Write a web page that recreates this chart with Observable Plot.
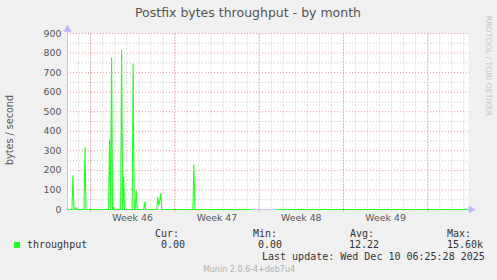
<!DOCTYPE html>
<html><head><meta charset="utf-8">
<script src="https://cdn.jsdelivr.net/npm/d3@7"></script>
<script src="https://cdn.jsdelivr.net/npm/@observablehq/plot@0.6"></script>
<style>
html,body{margin:0;padding:0;background:#f0f0f0;}
#wrap{position:relative;width:497px;height:280px;background:#f0f0f0;overflow:hidden;font-family:"DejaVu Sans",sans-serif;}
#wrap svg{position:absolute;left:0;top:0;}
.t{position:absolute;white-space:pre;line-height:1;}
.mono{font-family:"DejaVu Sans Mono",monospace;font-size:10px;color:#333;}
</style></head>
<body><div id="wrap"></div>
<script>
// ---- data ----
const times = [
  "2025-11-07T02:10Z","2025-11-07T11:00Z","2025-11-07T13:00Z","2025-11-07T15:00Z",
  "2025-11-07T17:00Z","2025-11-07T19:00Z","2025-11-07T21:00Z",
  "2025-11-08T11:00Z","2025-11-08T13:00Z","2025-11-08T15:00Z",
  "2025-11-10T12:00Z","2025-11-10T14:00Z","2025-11-10T16:00Z","2025-11-10T18:00Z","2025-11-10T20:00Z","2025-11-10T22:00Z","2025-11-11T00:00Z",
  "2025-11-11T12:00Z","2025-11-11T14:00Z","2025-11-11T16:00Z","2025-11-11T18:00Z","2025-11-11T20:00Z",
  "2025-11-12T11:00Z","2025-11-12T13:00Z","2025-11-12T15:00Z","2025-11-12T17:00Z","2025-11-12T19:00Z","2025-11-12T21:00Z",
  "2025-11-13T10:00Z","2025-11-13T12:00Z","2025-11-13T14:00Z",
  "2025-11-14T12:00Z","2025-11-14T14:00Z","2025-11-14T16:00Z","2025-11-14T18:00Z","2025-11-14T20:00Z","2025-11-14T22:00Z",
  "2025-11-17T12:00Z","2025-11-17T14:00Z","2025-11-17T16:00Z",
  "2025-11-22T08:00Z","2025-11-22T10:00Z","2025-11-24T12:00Z","2025-12-10T06:00Z"
];
const values = [
  0,0,172,0,
  0,10,0,
  0,315,0,
  0,356,0,776,0,12,0,
  0,816,0,165,0,
  0,745,0,0,97,0,
  0,38,0,
  0,63,22,45,83,0,
  0,230,0,
  0,null,0,0
];
const yTicks = [0,100,200,300,400,500,600,700,800,900];
const yMinor = [50,150,250,350,450,550,650,750,850];
const weekStarts = ["2025-11-09","2025-11-16","2025-11-23","2025-11-30","2025-12-07"];
const weekMids = ["2025-11-12T12:00Z","2025-11-19T12:00Z","2025-11-26T12:00Z","2025-12-03T12:00Z"];
const weekLabels = ["Week 46","Week 47","Week 48","Week 49"];
const xDomain = ["2025-11-07T02:10Z","2025-12-10T09:10Z"];

const points = times.map((t,i)=>({t:new Date(t), v:values[i]}));
const x0 = new Date(xDomain[0]), x1 = new Date(xDomain[1]);
const days = d3.utcDay.range(d3.utcDay.ceil(x0), x1);
const weeks = weekStarts.map(d=>new Date(d+"T00:00Z"));
const mids = weekMids.map(d=>new Date(d));
const labelMap = new Map(mids.map((d,i)=>[+d, weekLabels[i]]));
const xArrow = new Date(+x1 + 5*3600e3);

const axisCol = "#c4c4fa";
const chart = Plot.plot({
  width:497, height:280,
  marginLeft:67, marginRight:29, marginTop:33, marginBottom:71,
  style:{background:"transparent", fontFamily:"DejaVu Sans", fontSize:"9px", color:"#555"},
  x:{type:"utc", domain:[x0,x1]},
  y:{domain:[0,900]},
  marks:[
    Plot.frame({fill:"white", stroke:null}),
    Plot.ruleX(days, {stroke:"#c8c8c8", strokeDasharray:"1,2", y1:-8, y2:900}),
    Plot.ruleY(yMinor, {stroke:"#c8c8c8", strokeDasharray:"1,2"}),
    Plot.ruleY(yTicks.slice(1), {stroke:"#f09a9a", strokeDasharray:"1,2", x1:x0, x2:new Date(+x1+3*3600e3)}),
    Plot.ruleX(weeks, {stroke:"#f09a9a", strokeDasharray:"1,2", y1:0, y2:900}),
    Plot.ruleX(weeks, {stroke:"#f09a9a", y1:-12, y2:0}),
    Plot.ruleX([x0], {y1:0, y2:925, stroke:axisCol}),
    Plot.ruleY([0], {x1:x0, x2:xArrow, stroke:axisCol}),
    Plot.dot([0], {x:()=>x0, y:()=>921, symbol:"triangle", r:3, fill:"#b8b8fa", stroke:null}),
    Plot.dot([0], {x:()=>xArrow, y:()=>0, symbol:"triangle", r:3, rotate:90, fill:"#b8b8fa", stroke:null}),
    Plot.line(points, {x:"t", y:"v", stroke:"#22ff22", strokeWidth:1.1}),
    Plot.axisY(yTicks, {tickSize:0, tickPadding:6, label:null, fontSize:9.4, fill:"#555"}),
    Plot.axisX(mids, {tickSize:0, tickPadding:4.5, label:null, fontSize:9.4, fill:"#555", tickFormat:d=>labelMap.get(+d)})
  ]
});
const wrap = document.getElementById("wrap");
wrap.appendChild(chart);

function addText(txt, css, cls){
  const d = document.createElement("div");
  d.className = "t" + (cls ? " "+cls : "");
  d.textContent = txt;
  Object.assign(d.style, css);
  wrap.appendChild(d);
  return d;
}
addText("Postfix bytes throughput - by month", {left:"248px", top:"13px", transform:"translate(-50%,-50%)", fontSize:"12.5px", color:"#555"});
addText("bytes / second", {left:"10px", top:"130px", transform:"translate(-50%,-50%) rotate(-90deg)", fontSize:"9.6px", color:"#555"});
addText("RRDTOOL / TOBI OETIKER", {left:"488px", top:"66px", transform:"translate(-50%,-50%) rotate(90deg)", fontSize:"7.8px", color:"#c4c4c4"});
addText("Munin 2.0.6-4+deb7u4", {left:"249px", top:"270px", transform:"translate(-50%,-50%)", fontSize:"8px", color:"#b0b0b0"});

const sq = document.createElement("div");
Object.assign(sq.style, {position:"absolute", left:"14px", top:"242px", width:"6px", height:"6px", background:"#22ff22"});
wrap.appendChild(sq);

const legendRows = [
  ["throughput", 27, 245],
  ["Cur:", 155, 234], ["0.00", 161, 245],
  ["Min:", 253, 234], ["0.00", 258, 245],
  ["Avg:", 350, 234], ["12.22", 349, 245],
  ["Max:", 447, 234], ["15.60k", 447, 245],
  ["Last update: Wed Dec 10 06:25:28 2025", 262, 257]
];
legendRows.forEach(([s,x,y])=>addText(s, {left:x+"px", top:y+"px", transform:"translateY(-50%)"}, "mono"));
</script></body></html>
